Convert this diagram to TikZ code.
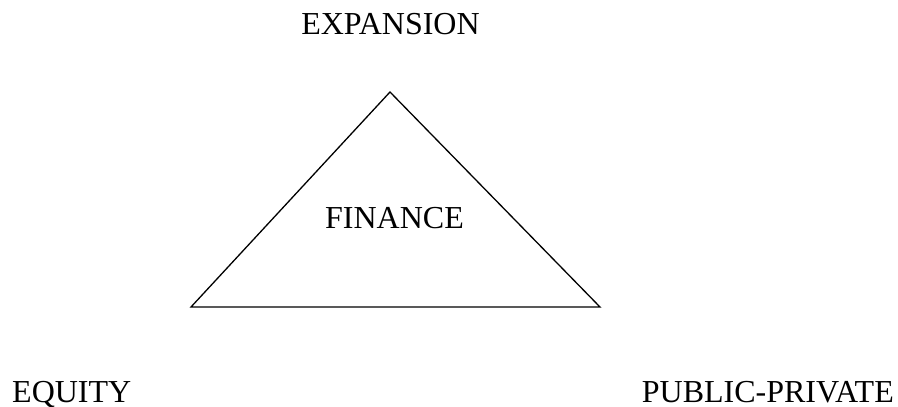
\documentclass[tikz,border=0pt]{standalone}
\usepackage{fontspec}
\setmainfont{Liberation Serif}
\begin{document}
\begin{tikzpicture}[x=1pt,y=-1pt,
  lbl/.style={inner sep=0pt,font=\fontsize{32}{38}\selectfont},
  edge/.style={line width=1.3pt,line join=miter}]
\useasboundingbox (0,0) rectangle (898,407);
% corners of the triangle
\coordinate (top) at (390,92);
\coordinate (bl) at (191,307);
\coordinate (br) at (600,307);
\draw[edge] (top) -- (br) -- (bl) -- cycle;
% labels
\node[lbl,anchor=base] (expansion) at (390.5,34) {EXPANSION};
\node[lbl,anchor=base] (finance) at (394.5,228) {FINANCE};
\node[lbl,anchor=base west] (equity) at (12,402) {EQUITY};
\node[lbl,anchor=base east] (pubpriv) at (894,402) {PUBLIC-PRIVATE};
\end{tikzpicture}
\end{document}
